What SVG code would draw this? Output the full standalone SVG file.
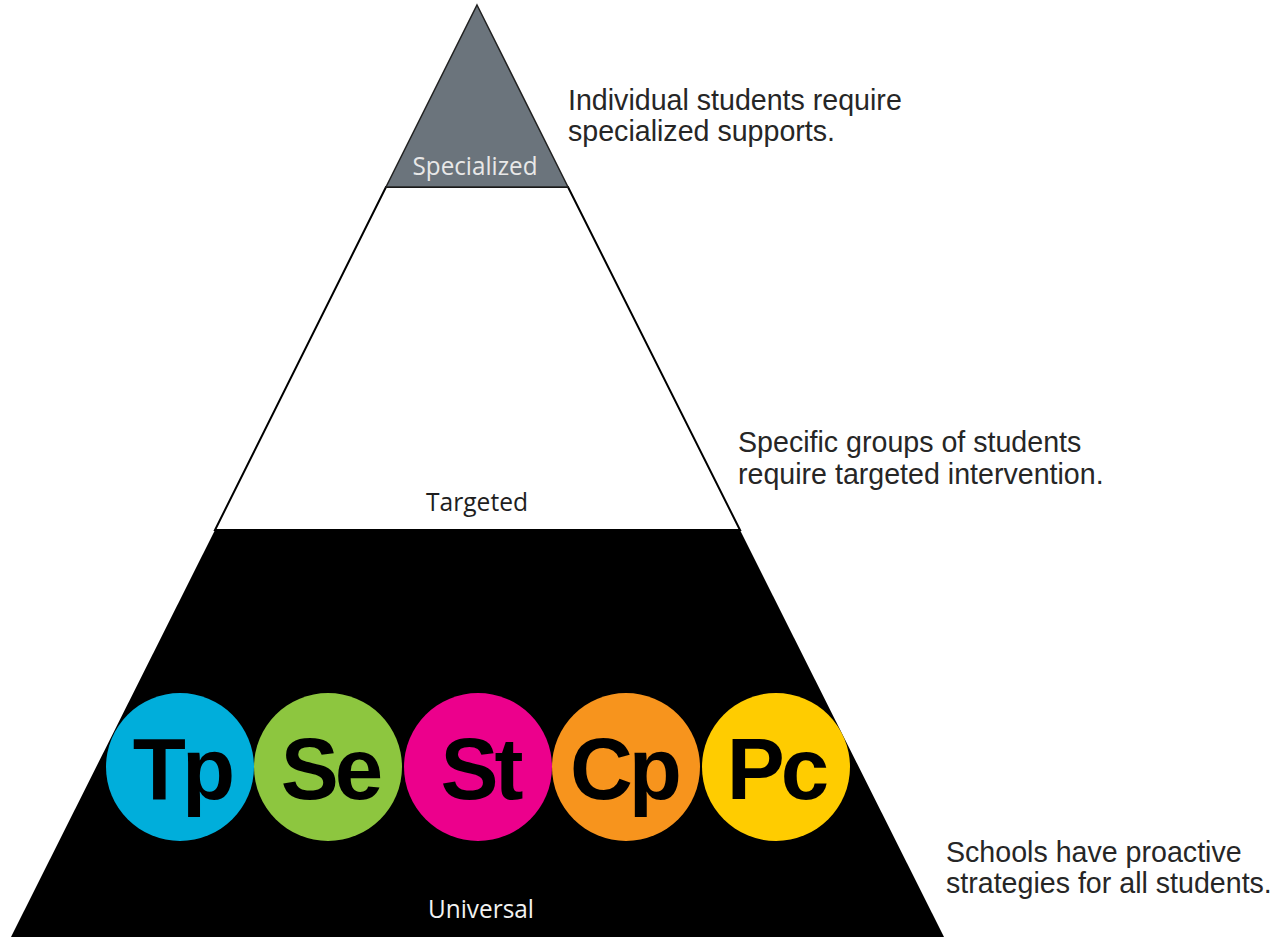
<svg xmlns="http://www.w3.org/2000/svg" width="1276" height="937" viewBox="0 0 1276 937">
<style>
.desc{font-family:"Liberation Sans",Arial,sans-serif;font-size:28.6px;fill:#262626}
.tier{font-family:"Open Sans","Noto Sans",sans-serif;font-size:25px;text-anchor:middle}
.badge{font-family:"Liberation Sans",Arial,sans-serif;font-weight:bold;font-size:87px;fill:#000;text-anchor:middle;letter-spacing:-4px}
</style>
<rect width="1276" height="937" fill="#fff"/>
<g id="tier-universal">
<polygon points="215,530 740,530 944,937 11,937" fill="#000"/>
<text class="tier" x="481" y="918" fill="#f2f2f2" textLength="106" lengthAdjust="spacingAndGlyphs">Universal</text>
</g>
<g id="tier-targeted">
<polygon points="386,187 568,187 740,530 215,530" fill="#fff" stroke="#000" stroke-width="2" stroke-linejoin="miter"/>
<text class="tier" x="477" y="511" fill="#1e1e1e" textLength="102" lengthAdjust="spacingAndGlyphs">Targeted</text>
</g>
<g id="tier-specialized">
<polygon points="477,5 568,187 386,187" fill="#6b747c" stroke="#222" stroke-width="1.5"/>
<text class="tier" x="475" y="175" fill="#e8e8e8" font-size="26" textLength="125" lengthAdjust="spacingAndGlyphs">Specialized</text>
</g>
<g id="badge-tp">
<circle cx="180" cy="767" r="74" fill="#00aedb"/>
<text class="badge" x="182" y="799">Tp</text>
</g>
<g id="badge-se">
<circle cx="328" cy="767" r="74" fill="#8dc63f"/>
<text class="badge" x="330" y="799">Se</text>
</g>
<g id="badge-st">
<circle cx="478" cy="767" r="74" fill="#ec008c"/>
<text class="badge" x="480" y="799">St</text>
</g>
<g id="badge-cp">
<circle cx="626" cy="767" r="74" fill="#f7941d"/>
<text class="badge" x="624" y="799">Cp</text>
</g>
<g id="badge-pc">
<circle cx="776" cy="767" r="74" fill="#ffcc00"/>
<text class="badge" x="776" y="799">Pc</text>
</g>
<g id="desc-specialized">
<text class="desc" x="568" y="110">Individual students require</text>
<text class="desc" x="568" y="141">specialized supports.</text>
</g>
<g id="desc-targeted">
<text class="desc" x="738" y="452">Specific groups of students</text>
<text class="desc" x="738" y="484">require targeted intervention.</text>
</g>
<g id="desc-universal">
<text class="desc" x="946" y="862">Schools have proactive</text>
<text class="desc" x="946" y="893">strategies for all students.</text>
</g>
<g id="connectors"></g>
</svg>
